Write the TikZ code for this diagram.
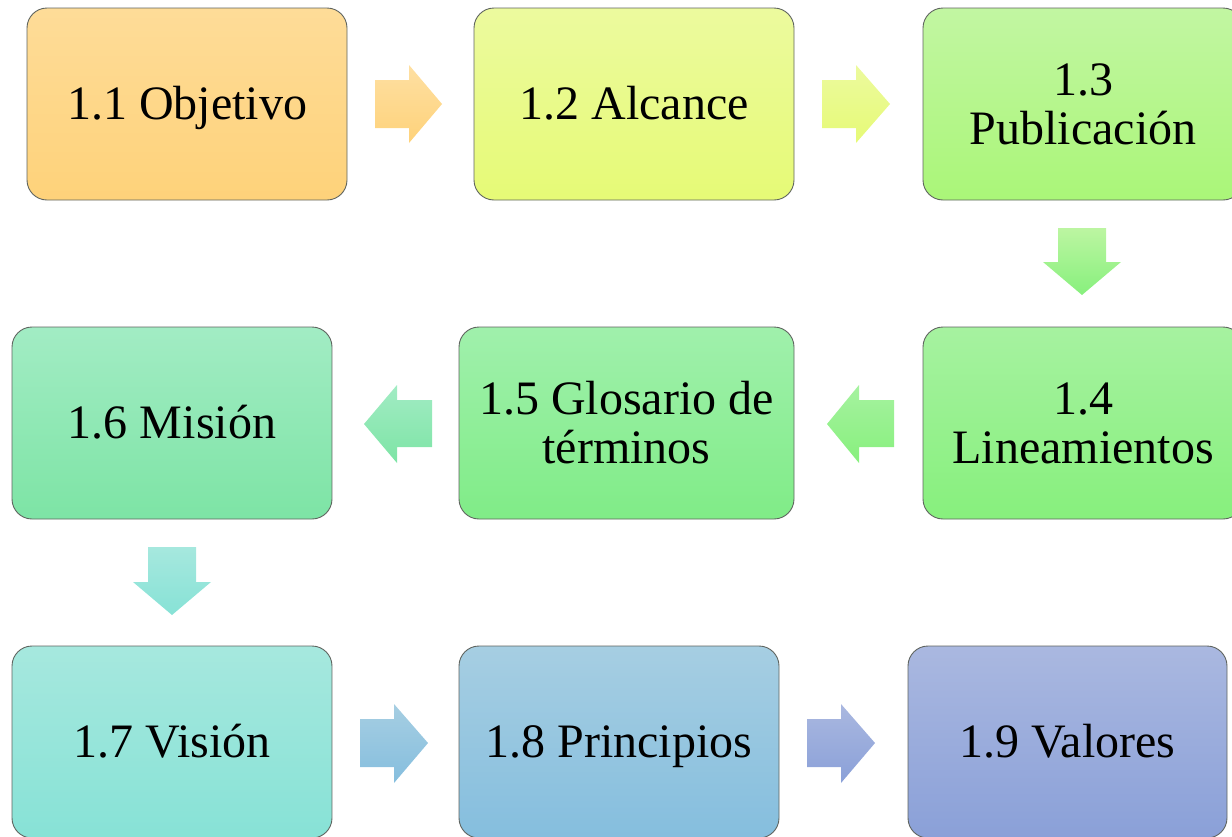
\documentclass[tikz,border=0pt]{standalone}
\usepackage{fontspec}
\setmainfont{Liberation Serif}
\definecolor{c1t}{RGB}{254,220,152}\definecolor{c1b}{RGB}{254,210,122}
\definecolor{c2t}{RGB}{236,250,158}\definecolor{c2b}{RGB}{230,250,118}
\definecolor{c3t}{RGB}{194,246,162}\definecolor{c3b}{RGB}{170,246,120}
\definecolor{c4t}{RGB}{166,242,160}\definecolor{c4b}{RGB}{135,240,125}
\definecolor{c5t}{RGB}{160,240,172}\definecolor{c5b}{RGB}{128,236,135}
\definecolor{c6t}{RGB}{162,236,196}\definecolor{c6b}{RGB}{125,228,165}
\definecolor{c7t}{RGB}{166,232,222}\definecolor{c7b}{RGB}{135,226,214}
\definecolor{c8t}{RGB}{166,206,226}\definecolor{c8b}{RGB}{133,190,222}
\definecolor{c9t}{RGB}{170,184,224}\definecolor{c9b}{RGB}{138,160,216}
\definecolor{edge}{RGB}{95,100,95}
\tikzset{
  box/.style={draw=edge, line width=0.9pt, rounded corners=20pt,
    minimum width=320pt, minimum height=192pt, align=center,
    font=\fontsize{48}{49}\selectfont, inner sep=0pt},
  oneline/.style={text height=36pt, text depth=5pt},
  barrow/.style={draw=none}
}
\begin{document}
\begin{tikzpicture}[x=1pt,y=-1pt]
\useasboundingbox (0,0) rectangle (1232,836);
\clip (0,0) rectangle (1232,836);
% boxes
\node[box, oneline, top color=c1t, bottom color=c1b] (b1) at (187,104) {1.1 Objetivo};
\node[box, oneline, top color=c2t, bottom color=c2b] (b2) at (634,104) {1.2 Alcance};
\node[box, top color=c3t, bottom color=c3b] (b3) at (1083,104) {1.3\\Publicación};
\node[box, top color=c4t, bottom color=c4b] (b4) at (1083,423) {1.4\\Lineamientos};
\node[box, top color=c5t, bottom color=c5b, minimum width=335pt] (b5) at (626.5,423) {1.5 Glosario de\\términos};
\node[box, oneline, top color=c6t, bottom color=c6b] (b6) at (172,423) {1.6 Misión};
\node[box, oneline, top color=c7t, bottom color=c7b] (b7) at (172,742) {1.7 Visión};
\node[box, oneline, top color=c8t, bottom color=c8b] (b8) at (619,742) {1.8 Principios};
\node[box, oneline, top color=c9t, bottom color=c9b, minimum width=319pt] (b9) at (1067.5,742) {1.9 Valores};
% block arrows
% right arrows
\path[barrow, top color=c1t!90!white, bottom color=c1b]
  (375,80) -- (409,80) -- (409,65) -- (442,104) -- (409,143) -- (409,128) -- (375,128) -- cycle;
\path[barrow, top color=c2t, bottom color=c2b]
  (822,80) -- (856,80) -- (856,65) -- (890,104) -- (856,143) -- (856,128) -- (822,128) -- cycle;
\path[barrow, top color=c8t, bottom color=c8b]
  (360,719) -- (394,719) -- (394,704) -- (428,743) -- (394,783) -- (394,767) -- (360,767) -- cycle;
\path[barrow, top color=c9t, bottom color=c9b]
  (807,719) -- (841,719) -- (841,704) -- (875,743) -- (841,783) -- (841,767) -- (807,767) -- cycle;
% left arrows
\path[barrow, top color=c4t, bottom color=c4b]
  (894,400) -- (859,400) -- (859,385) -- (827,424) -- (859,463) -- (859,447) -- (894,447) -- cycle;
\path[barrow, top color=c6t, bottom color=c6b]
  (432,400) -- (397,400) -- (397,385) -- (364,424) -- (397,463) -- (397,447) -- (432,447) -- cycle;
% down arrows
\path[barrow, top color=c3t!80!c4t, bottom color=c4b]
  (1058,228) -- (1106,228) -- (1106,262) -- (1121,262) -- (1082,295) -- (1043,262) -- (1058,262) -- cycle;
\path[barrow, top color=c7t, bottom color=c7b]
  (148,547) -- (196,547) -- (196,582) -- (211,582) -- (172,615) -- (133,582) -- (148,582) -- cycle;
\end{tikzpicture}
\end{document}
